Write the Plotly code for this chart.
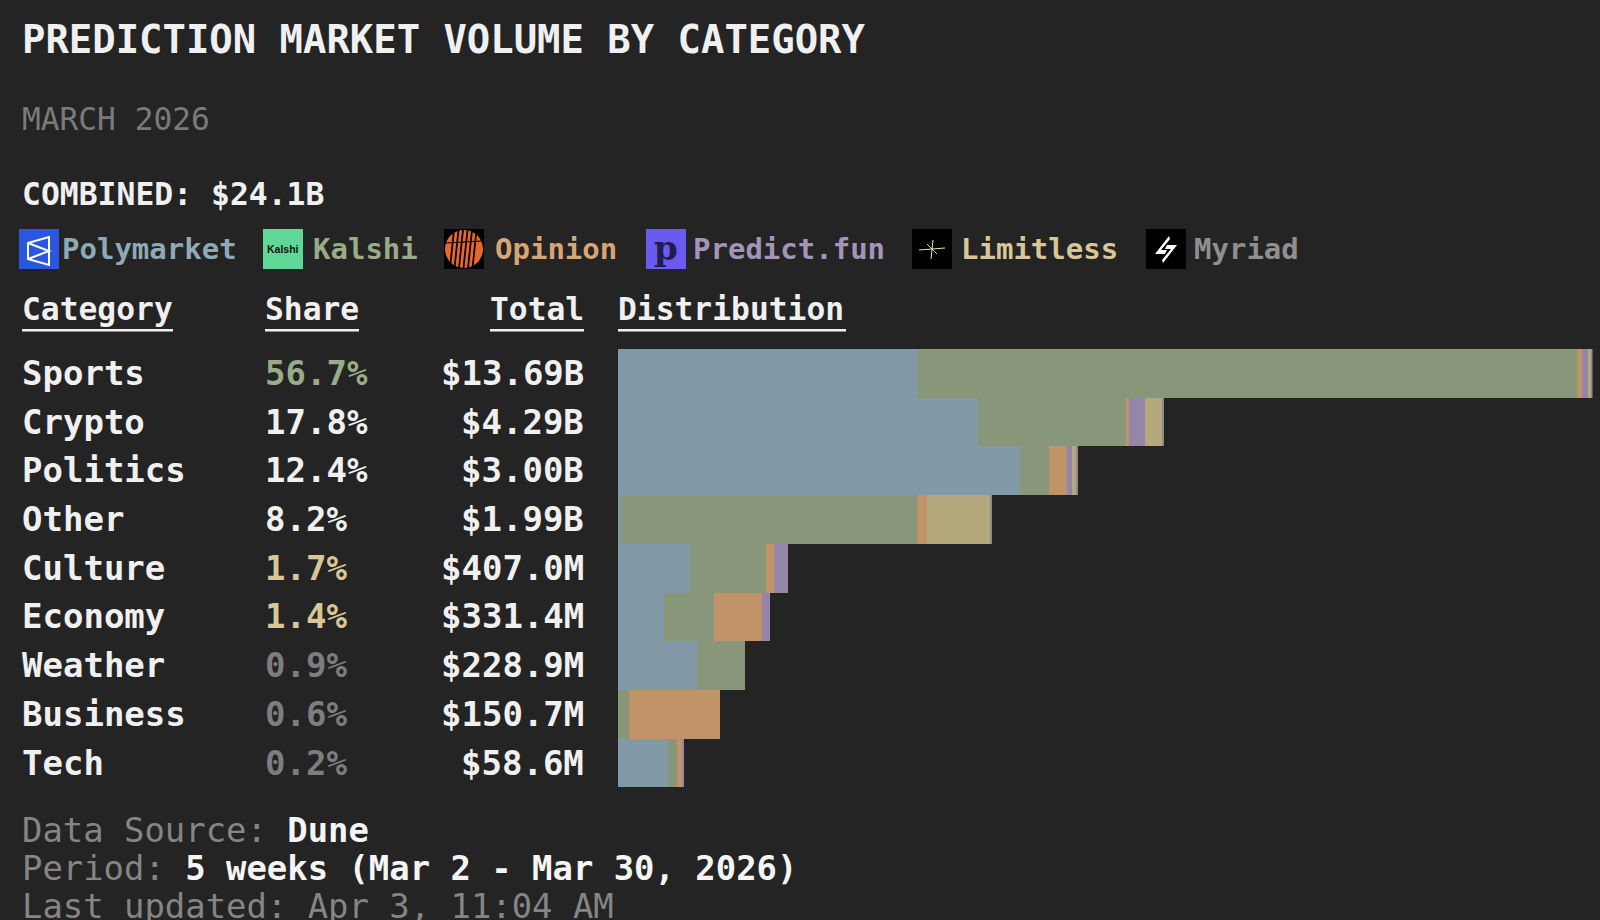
import numpy as np
import plotly.graph_objects as go

categories = ["Sports", "Crypto", "Politics", "Other", "Culture", "Economy", "Weather", "Business", "Tech"]
shares = ["56.7%", "17.8%", "12.4%", "8.2%", "1.7%", "1.4%", "0.9%", "0.6%", "0.2%"]
total_labels = ["$13.69B", "$4.29B", "$3.00B", "$1.99B", "$407.0M", "$331.4M", "$228.9M", "$150.7M", "$58.6M"]

# bar length as percent of the longest bar (roughly root-scaled volume)
bar_length = [100, 56.0, 47.2, 38.4, 17.45, 15.6, 13.05, 10.5, 6.7]

# percent of each category's volume
polymarket = [30.7, 65.9, 87.5, 0.8, 42.4, 30.3, 62.2, 0, 77.3]
kalshi = [67.7, 27.2, 6.1, 79.2, 44.7, 32.9, 37.8, 10.8, 13.6]
opinion = [0.5, 0.5, 4.1, 2.7, 4.7, 31.6, 0, 89.2, 7.6]
predict_fun = [0.6, 2.9, 1.1, 0, 8.2, 5.2, 0, 0, 1.5]
limitless = [0.4, 3.3, 0.9, 16.8, 0, 0, 0, 0, 0]
myriad = [0.1, 0.2, 0.2, 0.5, 0, 0, 0, 0, 0]

platforms = ["Polymarket", "Kalshi", "Opinion", "Predict.fun", "Limitless", "Myriad"]
platform_values = [polymarket, kalshi, opinion, predict_fun, limitless, myriad]
bar_colors = ["#829aa8", "#88967a", "#c09369", "#9585a9", "#b5a87c", "#8c8c8c"]
label_colors = ["#8fa9b6", "#9aab88", "#d9a577", "#a594ba", "#d8c795", "#8f8f8f"]
share_colors = ["#9aab88", "#f0f0f0", "#f0f0f0", "#f0f0f0", "#d8c795", "#d8c795", "#7d7d7d", "#7d7d7d", "#7d7d7d"]

W, H = 1600, 920
BG = "#242424"
MONO = "DejaVu Sans Mono"


def px(x):
    return x / W


def py(y):
    return 1 - y / H


def label(x, y, text, size, color="#f0f0f0", anchor="left", yref="paper", family=MONO):
    fig.add_annotation(x=px(x), y=y, xref="paper", yref=yref, text=text, showarrow=False,
                       xanchor=anchor, yanchor="middle", align=anchor,
                       font=dict(family=family, size=size, color=color), borderpad=0, borderwidth=0)


def rect(x0, y0, x1, y1, color):
    fig.add_shape(type="rect", xref="paper", yref="paper", x0=px(x0), x1=px(x1), y0=py(y0), y1=py(y1),
                  fillcolor=color, line_width=0, layer="above")


def path(points, color=None, line=None, width=2, closed=True):
    d = "M " + " L ".join(f"{px(x):.5f},{py(y):.5f}" for x, y in points) + (" Z" if closed else "")
    fig.add_shape(type="path", xref="paper", yref="paper", path=d, fillcolor=color,
                  line=dict(color=line, width=width if line else 0), layer="above")


fig = go.Figure()

lengths = np.array(bar_length)
for name, values, color in zip(platforms, platform_values, bar_colors):
    fig.add_trace(go.Bar(y=categories, x=lengths * np.array(values) / 100, name=name, orientation="h",
                         marker=dict(color=color, line_width=0)))

fig.update_layout(
    width=W, height=H, margin=dict(l=0, r=0, t=0, b=0), paper_bgcolor=BG, plot_bgcolor=BG,
    barmode="stack", bargap=0, showlegend=False,
    xaxis=dict(domain=[px(618), px(1592.5)], range=[0, 100], visible=False, fixedrange=True),
    yaxis=dict(domain=[py(787), py(348.5)], categoryorder="array", categoryarray=categories,
               range=[8.5, -0.5], visible=False, fixedrange=True),
)

label(22, py(40), "<b>PREDICTION MARKET VOLUME BY CATEGORY</b>", 38.9)
label(22, py(119.5), "MARCH 2026", 31.2, "#7a7a7a")
label(22, py(194), "<b>COMBINED: $24.1B</b>", 31.4)

# platform legend
icon_x = [19, 263, 444, 646, 912, 1146]
text_x = [62, 313, 495, 693, 961, 1194]
icon_bg = ["#2b57e0", "#5fd897", "#000000", "#6a5af0", "#000000", "#000000"]
for name, ix, tx, bg, col in zip(platforms, icon_x, text_x, icon_bg, label_colors):
    rect(ix, 229, ix + 40, 269, bg)
    label(tx, py(249), f"<b>{name}</b>", 29, col)

# polymarket mark
ix = icon_x[0]
path([(ix + 9, 243), (ix + 30, 237), (ix + 30, 265), (ix + 9, 259)], line="#ffffff", width=2)
path([(ix + 9, 243), (ix + 30, 251), (ix + 9, 259)], line="#ffffff", width=2, closed=False)
# kalshi mark
label(icon_x[1] + 20, py(249), "<b>Kalshi</b>", 10.5, "#111111", anchor="center", family="Liberation Sans")
# opinion mark
ix = icon_x[2]
fig.add_shape(type="circle", xref="paper", yref="paper", x0=px(ix + 1), x1=px(ix + 39), y0=py(230), y1=py(268),
              fillcolor="#e8672f", line_width=0, layer="above")
for k in range(6):
    path([(ix + 10 + 4.5 * k, 230), (ix + 6 + 4.5 * k, 268)], line="#000000", width=1.8, closed=False)
path([(ix + 2, 243), (ix + 38, 241)], line="#000000", width=1.2, closed=False)
# predict.fun mark
label(icon_x[3] + 20, py(248), "<b>p</b>", 34, "#1f1f4d", anchor="center", family="DejaVu Serif")
# limitless mark
ix = icon_x[4]
path([(ix + 7, 250), (ix + 33, 248)], line="#e8e2a8", width=1, closed=False)
path([(ix + 21, 240), (ix + 19, 259)], line="#e8e2a8", width=1, closed=False)
path([(ix + 15, 244), (ix + 25, 254)], line="#e8e2a8", width=1, closed=False)
# myriad mark
ix = icon_x[5]
path([(ix + 23, 236), (ix + 9, 254), (ix + 19, 254), (ix + 21, 250), (ix + 15, 250), (ix + 24, 239)], color="#ffffff")
path([(ix + 17, 263), (ix + 31, 245), (ix + 21, 245), (ix + 19, 249), (ix + 25, 249), (ix + 16, 260)], color="#ffffff")

# table header
for text, x0, x1, tx, anchor in [("Category", 22, 173, 22, "left"), ("Share", 265, 359, 265, "left"),
                                 ("Total", 490, 584, 584, "right"), ("Distribution", 618, 846, 618, "left")]:
    label(tx, py(308.5), f"<b>{text}</b>", 31.3, anchor=anchor)
    rect(x0, 329, x1, 331.5, "#f0f0f0")

for cat, share, total, col in zip(categories, shares, total_labels, share_colors):
    label(22, cat, f"<b>{cat}</b>", 34, yref="y")
    label(265, cat, f"<b>{share}</b>", 34, col, yref="y")
    label(584, cat, f"<b>{total}</b>", 34, anchor="right", yref="y")

white = '<span style="color:#f5f5f5"><b>%s</b></span>'
label(22, py(830), "Data Source: " + white % "Dune", 33.9, "#858585")
label(22, py(868), "Period: " + white % "5 weeks (Mar 2 - Mar 30, 2026)", 33.9, "#858585")
label(22, py(906), "Last updated: Apr 3, 11:04 AM", 33.9, "#858585")

fig.write_html("out.html", config={"displayModeBar": False},
               post_script="document.body.style.margin='0';document.body.style.background='%s';"
                           "document.body.style.overflow='hidden';" % BG)
